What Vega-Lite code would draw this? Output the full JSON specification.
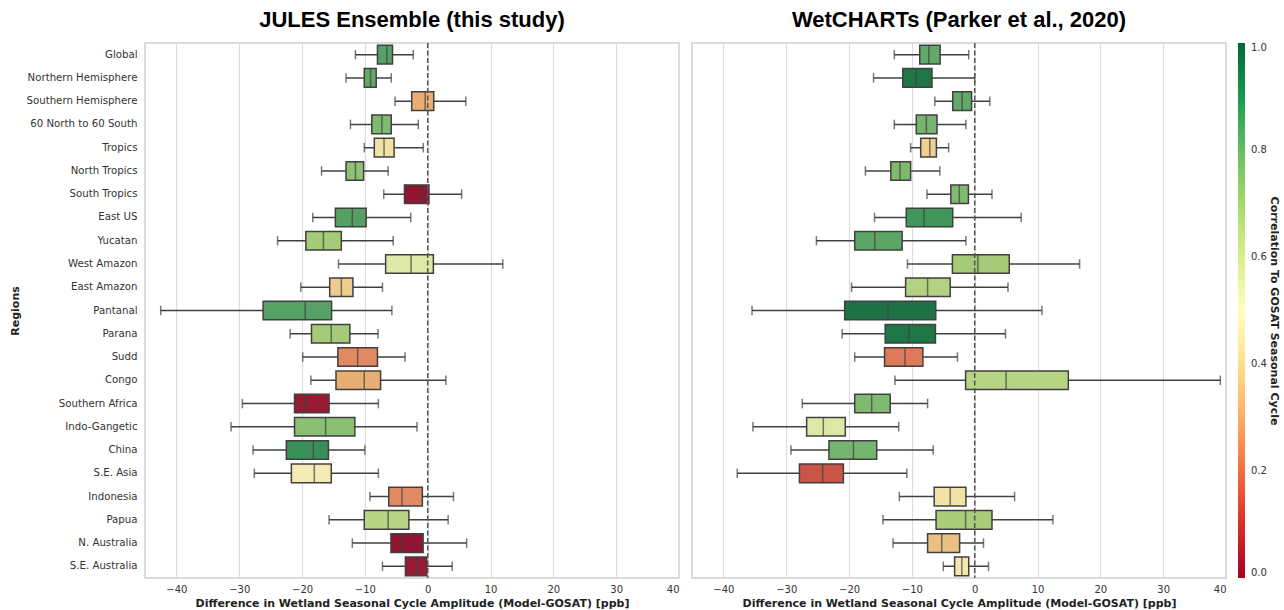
{
  "$schema": "https://vega.github.io/schema/vega-lite/v6.json",
  "padding": {"left": 8, "top": 8, "right": 0, "bottom": 0},
  "background": "white",
  "datasets": {
    "jules": [
      {"region": "Global", "low": -11.5, "q1": -8.0, "med": -6.5, "q3": -5.6, "high": -2.3, "corr": 0.84},
      {"region": "Northern Hemisphere", "low": -13.0, "q1": -10.1, "med": -9.1, "q3": -8.2, "high": -5.8, "corr": 0.82},
      {"region": "Southern Hemisphere", "low": -5.2, "q1": -2.55, "med": -0.4, "q3": 0.96, "high": 6.06, "corr": 0.3},
      {"region": "60 North to 60 South", "low": -12.3, "q1": -8.9, "med": -7.3, "q3": -5.8, "high": -1.5, "corr": 0.77},
      {"region": "Tropics", "low": -10.1, "q1": -8.5, "med": -6.95, "q3": -5.35, "high": -0.7, "corr": 0.43},
      {"region": "North Tropics", "low": -16.9, "q1": -13.0, "med": -11.5, "q3": -10.2, "high": -6.3, "corr": 0.74},
      {"region": "South Tropics", "low": -7.0, "q1": -3.7, "med": -1.0, "q3": 0.2, "high": 5.4, "corr": 0.0},
      {"region": "East US", "low": -18.3, "q1": -14.7, "med": -12.0, "q3": -9.8, "high": -2.7, "corr": 0.84},
      {"region": "Yucatan", "low": -23.9, "q1": -19.4, "med": -16.6, "q3": -13.75, "high": -5.5, "corr": 0.7},
      {"region": "West Amazon", "low": -14.2, "q1": -6.7, "med": -2.65, "q3": 0.9, "high": 11.95, "corr": 0.57},
      {"region": "East Amazon", "low": -20.2, "q1": -15.6, "med": -13.75, "q3": -11.9, "high": -7.2, "corr": 0.37},
      {"region": "Pantanal", "low": -42.5, "q1": -26.2, "med": -19.5, "q3": -15.3, "high": -5.7, "corr": 0.84},
      {"region": "Parana", "low": -21.9, "q1": -18.5, "med": -15.35, "q3": -12.4, "high": -7.9, "corr": 0.7},
      {"region": "Sudd", "low": -19.9, "q1": -14.3, "med": -11.15, "q3": -8.0, "high": -3.6, "corr": 0.23},
      {"region": "Congo", "low": -18.6, "q1": -14.6, "med": -10.1, "q3": -7.5, "high": 2.9, "corr": 0.3},
      {"region": "Southern Africa", "low": -29.5, "q1": -21.2, "med": -19.5, "q3": -15.7, "high": -7.85, "corr": 0.01},
      {"region": "Indo-Gangetic", "low": -31.3, "q1": -21.2, "med": -16.25, "q3": -11.6, "high": -1.7, "corr": 0.75},
      {"region": "China", "low": -27.8, "q1": -22.5, "med": -18.2, "q3": -15.8, "high": -10.0, "corr": 0.88},
      {"region": "S.E. Asia", "low": -27.6, "q1": -21.7, "med": -18.05, "q3": -15.35, "high": -7.85, "corr": 0.46},
      {"region": "Indonesia", "low": -9.2, "q1": -6.2, "med": -4.1, "q3": -0.85, "high": 4.1, "corr": 0.23},
      {"region": "Papua", "low": -15.7, "q1": -10.1, "med": -6.3, "q3": -3.0, "high": 3.25, "corr": 0.66},
      {"region": "N. Australia", "low": -12.0, "q1": -5.85, "med": -4.3, "q3": -0.73, "high": 6.2, "corr": 0.0},
      {"region": "S.E. Australia", "low": -7.2, "q1": -3.55, "med": -1.75, "q3": -0.15, "high": 3.9, "corr": 0.01}
    ],
    "wetcharts": [
      {"region": "Global", "low": -12.8, "q1": -8.75, "med": -7.3, "q3": -5.5, "high": -0.95, "corr": 0.82},
      {"region": "Northern Hemisphere", "low": -16.1, "q1": -11.45, "med": -9.3, "q3": -6.8, "high": 0.0, "corr": 0.94},
      {"region": "Southern Hemisphere", "low": -6.35, "q1": -3.5, "med": -2.0, "q3": -0.5, "high": 2.4, "corr": 0.82},
      {"region": "60 North to 60 South", "low": -12.8, "q1": -9.3, "med": -7.7, "q3": -6.0, "high": -1.4, "corr": 0.79},
      {"region": "Tropics", "low": -10.2, "q1": -8.6, "med": -7.15, "q3": -6.1, "high": -4.15, "corr": 0.38},
      {"region": "North Tropics", "low": -17.4, "q1": -13.35, "med": -11.9, "q3": -10.2, "high": -5.55, "corr": 0.77},
      {"region": "South Tropics", "low": -7.6, "q1": -3.8, "med": -2.45, "q3": -1.0, "high": 2.75, "corr": 0.77},
      {"region": "East US", "low": -15.95, "q1": -10.9, "med": -8.05, "q3": -3.5, "high": 7.4, "corr": 0.87},
      {"region": "Yucatan", "low": -25.2, "q1": -19.1, "med": -15.9, "q3": -11.55, "high": -1.4, "corr": 0.83},
      {"region": "West Amazon", "low": -10.7, "q1": -3.55, "med": 0.5, "q3": 5.5, "high": 16.7, "corr": 0.7},
      {"region": "East Amazon", "low": -19.6, "q1": -11.0, "med": -7.5, "q3": -3.9, "high": 5.3, "corr": 0.67},
      {"region": "Pantanal", "low": -35.45, "q1": -20.7, "med": -13.8, "q3": -6.2, "high": 10.7, "corr": 0.95},
      {"region": "Parana", "low": -21.1, "q1": -14.25, "med": -10.45, "q3": -6.25, "high": 4.9, "corr": 0.94},
      {"region": "Sudd", "low": -19.1, "q1": -14.35, "med": -11.1, "q3": -8.25, "high": -2.75, "corr": 0.2},
      {"region": "Congo", "low": -12.7, "q1": -1.45, "med": 5.0, "q3": 14.9, "high": 39.1, "corr": 0.66},
      {"region": "Southern Africa", "low": -27.45, "q1": -19.1, "med": -16.4, "q3": -13.45, "high": -7.5, "corr": 0.77},
      {"region": "Indo-Gangetic", "low": -35.3, "q1": -26.75, "med": -24.1, "q3": -20.6, "high": -12.1, "corr": 0.57},
      {"region": "China", "low": -29.25, "q1": -23.2, "med": -19.3, "q3": -15.6, "high": -6.6, "corr": 0.79},
      {"region": "S.E. Asia", "low": -37.8, "q1": -27.9, "med": -24.2, "q3": -20.9, "high": -10.8, "corr": 0.13},
      {"region": "Indonesia", "low": -12.0, "q1": -6.45, "med": -3.9, "q3": -1.4, "high": 6.35, "corr": 0.43},
      {"region": "Papua", "low": -14.6, "q1": -6.15, "med": -1.45, "q3": 2.75, "high": 12.45, "corr": 0.69},
      {"region": "N. Australia", "low": -13.0, "q1": -7.5, "med": -5.25, "q3": -2.4, "high": 1.4, "corr": 0.34},
      {"region": "S.E. Australia", "low": -5.0, "q1": -3.2, "med": -2.05, "q3": -0.95, "high": 2.2, "corr": 0.45}
    ],
    "zero": [{"x": 0}]
  },
  "config": {
    "view": {"stroke": "#cfcfcf", "strokeWidth": 1.5},
    "font": "DejaVu Sans",
    "concat": {"spacing": 11},
    "axis": {"labelFont": "DejaVu Sans", "labelFontSize": 10, "labelColor": "#333333", "titleFont": "DejaVu Sans", "titleFontSize": 11, "titleFontWeight": "bold", "titleColor": "#222222", "ticks": false, "domain": false},
    "axisX": {"grid": true, "gridColor": "#dddddd", "gridWidth": 1.2, "labelPadding": 6, "titlePadding": 3},
    "axisY": {"grid": false, "labelPadding": 8, "titlePadding": 6, "labelFontSize": 10.2},
    "title": {"font": "Liberation Sans", "fontSize": 22, "fontWeight": "bold", "color": "#000000", "offset": 10, "anchor": "middle"}
  },
  "resolve": {"scale": {"color": "shared", "fill": "shared"}, "legend": {"color": "shared"}},
  "hconcat": [
    {
      "width": 534,
      "height": 535,
      "title": {"text": "JULES Ensemble (this study)"},
      "data": {"name": "jules"},
      "layer": [
        {
          "mark": {"type": "rule", "color": "#404040", "strokeWidth": 1.5},
          "encoding": {
            "y": {"field": "region", "type": "nominal", "title": "Regions", "scale": {"domain": ["Global","Northern Hemisphere","Southern Hemisphere","60 North to 60 South","Tropics","North Tropics","South Tropics","East US","Yucatan","West Amazon","East Amazon","Pantanal","Parana","Sudd","Congo","Southern Africa","Indo-Gangetic","China","S.E. Asia","Indonesia","Papua","N. Australia","S.E. Australia"], "paddingInner": 0, "paddingOuter": 0}},
            "x": {"field": "low", "type": "quantitative", "title": "Difference in Wetland Seasonal Cycle Amplitude (Model-GOSAT) [ppb]", "scale": {"domain": [-45, 40], "nice": false, "zero": false}, "axis": {"values": [-40, -30, -20, -10, 0, 10, 20, 30, 40], "format": "d"}},
            "x2": {"field": "high"}
          }
        },
        {
          "mark": {"type": "tick", "orient": "vertical", "size": 9.5, "thickness": 1.5, "color": "#404040"},
          "encoding": {
            "y": {"field": "region", "type": "nominal", "title": "Regions"},
            "x": {"field": "low", "type": "quantitative", "title": "Difference in Wetland Seasonal Cycle Amplitude (Model-GOSAT) [ppb]"}
          }
        },
        {
          "mark": {"type": "tick", "orient": "vertical", "size": 9.5, "thickness": 1.5, "color": "#404040"},
          "encoding": {
            "y": {"field": "region", "type": "nominal", "title": "Regions"},
            "x": {"field": "high", "type": "quantitative", "title": "Difference in Wetland Seasonal Cycle Amplitude (Model-GOSAT) [ppb]"}
          }
        },
        {
          "mark": {"type": "bar", "height": {"band": 0.8}, "stroke": "#404040", "strokeWidth": 1.5},
          "encoding": {
            "y": {"field": "region", "type": "nominal", "title": "Regions"},
            "x": {"field": "q1", "type": "quantitative", "title": "Difference in Wetland Seasonal Cycle Amplitude (Model-GOSAT) [ppb]"},
            "x2": {"field": "q3"},
            "fill": {"field": "corr", "type": "quantitative", "legend": null, "scale": {"domain": [0, 0.1, 0.2, 0.3, 0.4, 0.5, 0.6, 0.7, 0.8, 0.9, 1.0], "range": ["#901531","#c1443d","#de7959","#e9ae74","#f0d999","#f7f7c7","#d2e298","#a5cb78","#70b26e","#2a8852","#0d5b36"], "interpolate": "rgb"}}
          }
        },
        {
          "mark": {"type": "tick", "orient": "vertical", "size": 18.6, "thickness": 1.5, "color": "#404040"},
          "encoding": {
            "y": {"field": "region", "type": "nominal", "title": "Regions"},
            "x": {"field": "med", "type": "quantitative", "title": "Difference in Wetland Seasonal Cycle Amplitude (Model-GOSAT) [ppb]"}
          }
        },
        {
          "mark": {"type": "point", "size": 0, "strokeWidth": 0, "filled": true, "opacity": 1},
          "encoding": {
            "y": {"field": "region", "type": "nominal", "title": "Regions"},
            "x": {"field": "med", "type": "quantitative", "title": "Difference in Wetland Seasonal Cycle Amplitude (Model-GOSAT) [ppb]"},
            "color": {"field": "corr", "type": "quantitative", "title": "Correlation To GOSAT Seasonal Cycle", "scale": {"domain": [0, 1], "range": ["#a50026","#d73027","#f46d43","#fdae61","#fee08b","#ffffbf","#d9ef8b","#a6d96a","#66bd63","#1a9850","#006837"], "interpolate": "rgb"}, "legend": {"type": "gradient", "orient": "right", "offset": 11, "direction": "vertical", "gradientLength": 535, "gradientThickness": 7, "gradientStrokeWidth": 0, "labelFont": "DejaVu Sans", "labelFontSize": 10, "labelColor": "#333333", "labelOffset": 6, "labelBaseline": "middle", "titleFont": "DejaVu Sans", "titleFontSize": 11, "titleFontWeight": "bold", "titleColor": "#222222", "titleOrient": "right", "titleAngle": 270, "titleAnchor": "middle", "titlePadding": 2, "titleLimit": 600, "values": [0, 0.2, 0.4, 0.6, 0.8, 1.0], "format": ".1f"}}
          }
        },
        {
          "data": {"name": "zero"},
          "mark": {"type": "rule", "color": "#555555", "strokeWidth": 1.5, "strokeDash": [5, 2.5]},
          "encoding": {
            "x": {"field": "x", "type": "quantitative", "title": "Difference in Wetland Seasonal Cycle Amplitude (Model-GOSAT) [ppb]"}
          }
        }
      ]
    },
    {
      "width": 534,
      "height": 535,
      "title": {"text": "WetCHARTs (Parker et al., 2020)"},
      "data": {"name": "wetcharts"},
      "layer": [
        {
          "mark": {"type": "rule", "color": "#404040", "strokeWidth": 1.5},
          "encoding": {
            "y": {"field": "region", "type": "nominal", "axis": null, "scale": {"domain": ["Global","Northern Hemisphere","Southern Hemisphere","60 North to 60 South","Tropics","North Tropics","South Tropics","East US","Yucatan","West Amazon","East Amazon","Pantanal","Parana","Sudd","Congo","Southern Africa","Indo-Gangetic","China","S.E. Asia","Indonesia","Papua","N. Australia","S.E. Australia"], "paddingInner": 0, "paddingOuter": 0}},
            "x": {"field": "low", "type": "quantitative", "title": "Difference in Wetland Seasonal Cycle Amplitude (Model-GOSAT) [ppb]", "scale": {"domain": [-45, 40], "nice": false, "zero": false}, "axis": {"values": [-40, -30, -20, -10, 0, 10, 20, 30, 40], "format": "d"}},
            "x2": {"field": "high"}
          }
        },
        {
          "mark": {"type": "tick", "orient": "vertical", "size": 9.5, "thickness": 1.5, "color": "#404040"},
          "encoding": {
            "y": {"field": "region", "type": "nominal", "axis": null},
            "x": {"field": "low", "type": "quantitative", "title": "Difference in Wetland Seasonal Cycle Amplitude (Model-GOSAT) [ppb]"}
          }
        },
        {
          "mark": {"type": "tick", "orient": "vertical", "size": 9.5, "thickness": 1.5, "color": "#404040"},
          "encoding": {
            "y": {"field": "region", "type": "nominal", "axis": null},
            "x": {"field": "high", "type": "quantitative", "title": "Difference in Wetland Seasonal Cycle Amplitude (Model-GOSAT) [ppb]"}
          }
        },
        {
          "mark": {"type": "bar", "height": {"band": 0.8}, "stroke": "#404040", "strokeWidth": 1.5},
          "encoding": {
            "y": {"field": "region", "type": "nominal", "axis": null},
            "x": {"field": "q1", "type": "quantitative", "title": "Difference in Wetland Seasonal Cycle Amplitude (Model-GOSAT) [ppb]"},
            "x2": {"field": "q3"},
            "fill": {"field": "corr", "type": "quantitative", "legend": null, "scale": {"domain": [0, 0.1, 0.2, 0.3, 0.4, 0.5, 0.6, 0.7, 0.8, 0.9, 1.0], "range": ["#901531","#c1443d","#de7959","#e9ae74","#f0d999","#f7f7c7","#d2e298","#a5cb78","#70b26e","#2a8852","#0d5b36"], "interpolate": "rgb"}}
          }
        },
        {
          "mark": {"type": "tick", "orient": "vertical", "size": 18.6, "thickness": 1.5, "color": "#404040"},
          "encoding": {
            "y": {"field": "region", "type": "nominal", "axis": null},
            "x": {"field": "med", "type": "quantitative", "title": "Difference in Wetland Seasonal Cycle Amplitude (Model-GOSAT) [ppb]"}
          }
        },
        {
          "data": {"name": "zero"},
          "mark": {"type": "rule", "color": "#555555", "strokeWidth": 1.5, "strokeDash": [5, 2.5]},
          "encoding": {
            "x": {"field": "x", "type": "quantitative", "title": "Difference in Wetland Seasonal Cycle Amplitude (Model-GOSAT) [ppb]"}
          }
        }
      ]
    }
  ]
}
